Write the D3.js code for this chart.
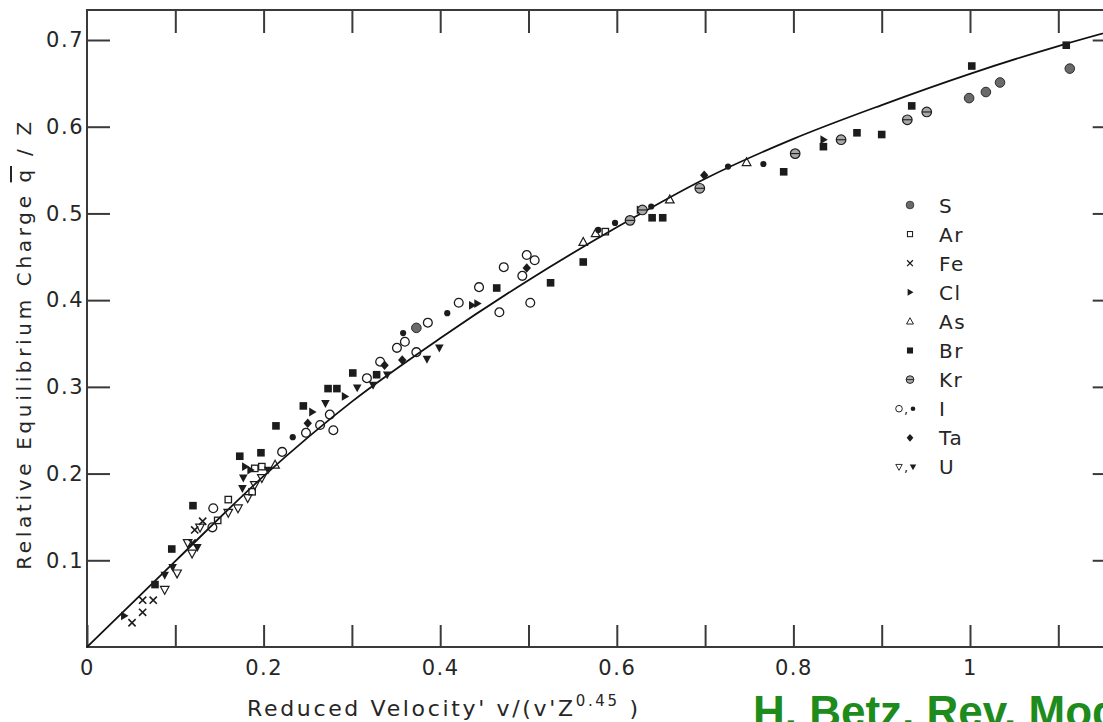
<!DOCTYPE html>
<html>
<head>
<meta charset="utf-8">
<script src="https://cdn.jsdelivr.net/npm/d3@7"></script>
<style>
  body { margin: 0; background: #fff; }
  svg { display: block; }
</style>
</head>
<body>
<svg id="chart" width="1103" height="722"></svg>
<script>
// ---- Universal equilibrium-charge curve (reduced velocity -> q/Z) ----
const curveV = [0, 0.10, 0.20, 0.30, 0.40, 0.50, 0.60, 0.70, 0.80, 0.90, 1.00, 1.10, 1.17];
const curveQ = [0, 0.099, 0.197, 0.283, 0.356, 0.423, 0.484, 0.540, 0.586, 0.625, 0.661, 0.693, 0.713];

// ---- Measured points [reduced velocity, q/Z] per projectile ----
const sulfur = [[0.373, 0.368], [0.999, 0.633], [1.018, 0.640], [1.034, 0.651], [1.113, 0.667]];
const argon = [[0.160, 0.170], [0.190, 0.206], [0.198, 0.208], [0.187, 0.179], [0.148, 0.146], [0.587, 0.479]];
const iron = [[0.051, 0.028], [0.063, 0.054], [0.063, 0.040], [0.075, 0.054], [0.119, 0.120], [0.122, 0.135], [0.131, 0.145]];
const chlorine = [[0.042, 0.036], [0.179, 0.208], [0.185, 0.204], [0.255, 0.271], [0.292, 0.289], [0.436, 0.394], [0.442, 0.396], [0.626, 0.504], [0.834, 0.585]];
const arsenic = [[0.213, 0.210], [0.562, 0.467], [0.576, 0.477], [0.660, 0.516], [0.747, 0.559]];
const bromine = [[0.077, 0.072], [0.096, 0.113], [0.120, 0.163], [0.173, 0.220], [0.197, 0.224], [0.214, 0.255], [0.245, 0.278], [0.273, 0.298], [0.283, 0.298], [0.301, 0.316], [0.328, 0.314], [0.464, 0.414], [0.525, 0.420], [0.562, 0.444], [0.640, 0.495], [0.652, 0.495], [0.789, 0.548], [0.834, 0.577], [0.872, 0.593], [0.900, 0.591], [0.934, 0.624], [1.002, 0.670], [1.109, 0.694]];
const krypton = [[0.615, 0.492], [0.629, 0.504], [0.694, 0.529], [0.802, 0.569], [0.854, 0.585], [0.929, 0.608], [0.951, 0.617]];
const iodineOpen = [[0.142, 0.138], [0.143, 0.160], [0.221, 0.225], [0.248, 0.247], [0.264, 0.256], [0.279, 0.250], [0.275, 0.268], [0.317, 0.310], [0.332, 0.329], [0.351, 0.345], [0.360, 0.352], [0.373, 0.340], [0.386, 0.374], [0.421, 0.397], [0.444, 0.415], [0.467, 0.386], [0.472, 0.438], [0.498, 0.452], [0.507, 0.446], [0.502, 0.397], [0.493, 0.428]];
const iodineFilled = [[0.233, 0.242], [0.358, 0.362], [0.408, 0.385], [0.579, 0.481], [0.598, 0.489], [0.639, 0.508], [0.726, 0.554], [0.766, 0.557]];
const tantalum = [[0.250, 0.258], [0.337, 0.325], [0.357, 0.331], [0.498, 0.437], [0.699, 0.544]];
const uraniumOpen = [[0.088, 0.066], [0.102, 0.085], [0.114, 0.120], [0.119, 0.108], [0.128, 0.138], [0.160, 0.155], [0.171, 0.160], [0.182, 0.172], [0.190, 0.187], [0.198, 0.195]];
const uraniumFilled = [[0.088, 0.083], [0.097, 0.092], [0.125, 0.115], [0.176, 0.183], [0.177, 0.195], [0.205, 0.204], [0.270, 0.281], [0.306, 0.299], [0.324, 0.302], [0.340, 0.314], [0.385, 0.332], [0.399, 0.345]];

// ---- Axis ticks and labels ----
const xTicks = [0, 0.1, 0.2, 0.3, 0.4, 0.5, 0.6, 0.7, 0.8, 0.9, 1.0, 1.1];
const xTickLabels = ["0", "", "0.2", "", "0.4", "", "0.6", "", "0.8", "", "1", ""];
const yTicks = [0.1, 0.2, 0.3, 0.4, 0.5, 0.6, 0.7];
const yTickLabels = ["0.1", "0.2", "0.3", "0.4", "0.5", "0.6", "0.7"];

// ---- Legend ----
const legendLabels = ["S", "Ar", "Fe", "Cl", "As", "Br", "Kr", "I", "Ta", "U"];
const legendMarkers = [["S"], ["Ar"], ["Fe"], ["Cl"], ["As"], ["Br"], ["Kr"], ["Io", "If"], ["Ta"], ["Uo", "Uf"]];

const series = [
  { kind: "S", pts: sulfur }, { kind: "Ar", pts: argon }, { kind: "Fe", pts: iron },
  { kind: "Cl", pts: chlorine }, { kind: "As", pts: arsenic }, { kind: "Kr", pts: krypton },
  { kind: "Io", pts: iodineOpen }, { kind: "Uo", pts: uraniumOpen },
  { kind: "Br", pts: bromine }, { kind: "If", pts: iodineFilled }, { kind: "Ta", pts: tantalum },
  { kind: "Uf", pts: uraniumFilled }
];

const ink = "#1c1c1c";
const frameInk = "#3a3a3a";
const textInk = "#262626";
const font = "'DejaVu Sans', 'Liberation Sans', sans-serif";

const svg = d3.select("#chart");
const x = d3.scaleLinear().domain([0, 1]).range([87, 970]);
const y = d3.scaleLinear().domain([0, 0.7]).range([647, 40]);
const xMax = 1.165, yMax = 0.7346;

// frame
svg.append("rect")
  .attr("x", x(0)).attr("y", y(yMax))
  .attr("width", x(xMax) - x(0)).attr("height", y(0) - y(yMax))
  .attr("fill", "none").attr("stroke", frameInk).attr("stroke-width", 2);

function styleAxis(g) {
  g.select(".domain").remove();
  g.selectAll(".tick line").attr("stroke", frameInk).attr("stroke-width", 2);
  g.selectAll(".tick text")
    .attr("fill", textInk)
    .attr("font-family", font)
    .attr("font-size", 21)
    .attr("letter-spacing", 1.5);
}

svg.append("g").attr("transform", `translate(0,${y(0)})`)
  .call(d3.axisBottom(x).tickValues(xTicks).tickSize(-22).tickPadding(13)
    .tickFormat((d, i) => xTickLabels[i]))
  .call(styleAxis);
svg.append("g").attr("transform", `translate(0,${y(yMax)})`)
  .call(d3.axisTop(x).tickValues(xTicks.slice(1)).tickSize(-23).tickFormat(""))
  .call(styleAxis);
svg.append("g").attr("transform", `translate(${x(0)},0)`)
  .call(d3.axisLeft(y).tickValues(yTicks).tickSize(-23).tickPadding(3)
    .tickFormat((d, i) => yTickLabels[i]))
  .call(styleAxis);
svg.append("g").attr("transform", `translate(${x(xMax)},0)`)
  .call(d3.axisRight(y).tickValues(yTicks).tickSize(-23).tickFormat(""))
  .call(styleAxis);

// universal curve
const curvePts = curveV.map((v, i) => [v, curveQ[i]]);
svg.append("path")
  .datum(curvePts)
  .attr("d", d3.line().x(d => x(d[0])).y(d => y(d[1])).curve(d3.curveMonotoneX))
  .attr("fill", "none").attr("stroke", "#111").attr("stroke-width", 1.8);

// marker shapes
function drawMarker(g, kind) {
  switch (kind) {
    case "S":
      g.append("circle").attr("r", 4.8).attr("fill", "#6a6a6a").attr("stroke", "#2a2a2a").attr("stroke-width", 1);
      break;
    case "Ar":
      g.append("rect").attr("x", -3.2).attr("y", -3.2).attr("width", 6.4).attr("height", 6.4)
        .attr("fill", "none").attr("stroke", ink).attr("stroke-width", 1.3);
      break;
    case "Fe":
      g.append("path").attr("d", "M-3.6,-3.6L3.6,3.6M-3.6,3.6L3.6,-3.6")
        .attr("stroke", ink).attr("stroke-width", 1.6).attr("fill", "none");
      break;
    case "Cl":
      g.append("path").attr("d", "M-3,-4.4L4.4,0L-3,4.4Z").attr("fill", ink);
      break;
    case "As":
      g.append("path").attr("d", "M0,-4.6L4.3,3.3L-4.3,3.3Z")
        .attr("fill", "none").attr("stroke", ink).attr("stroke-width", 1.2);
      break;
    case "Br":
      g.append("rect").attr("x", -3.8).attr("y", -3.8).attr("width", 7.6).attr("height", 7.6).attr("fill", ink);
      break;
    case "Kr":
      g.append("circle").attr("r", 4.8).attr("fill", "#a8a8a8").attr("stroke", ink).attr("stroke-width", 1.2);
      g.append("path").attr("d", "M-4.6,0L4.6,0").attr("stroke", ink).attr("stroke-width", 1.1);
      break;
    case "Io":
      g.append("circle").attr("r", 4.4).attr("fill", "none").attr("stroke", ink).attr("stroke-width", 1.3);
      break;
    case "If":
      g.append("circle").attr("r", 3.1).attr("fill", ink);
      break;
    case "Ta":
      g.append("path").attr("d", "M0,-4.8L4.2,0L0,4.8L-4.2,0Z").attr("fill", ink);
      break;
    case "Uo":
      g.append("path").attr("d", "M-4.3,-3.3L4.3,-3.3L0,4.6Z")
        .attr("fill", "none").attr("stroke", ink).attr("stroke-width", 1.2);
      break;
    case "Uf":
      g.append("path").attr("d", "M-4.3,-3.3L4.3,-3.3L0,4.6Z").attr("fill", ink);
      break;
  }
}

// data points
const pointLayer = svg.append("g");
series.forEach(s => {
  pointLayer.selectAll(null).data(s.pts).enter().append("g")
    .attr("transform", d => `translate(${x(d[0])},${y(d[1])})`)
    .each(function () { drawMarker(d3.select(this), s.kind); });
});

// legend
const legend = svg.append("g");
legendLabels.forEach((label, i) => {
  const cy = 205 + i * 29.1;
  const kinds = legendMarkers[i];
  if (kinds.length === 1) {
    drawMarker(legend.append("g").attr("transform", `translate(910,${cy}) scale(0.8)`), kinds[0]);
  } else {
    drawMarker(legend.append("g").attr("transform", `translate(899,${cy}) scale(0.75)`), kinds[0]);
    legend.append("text").attr("x", 904).attr("y", cy + 5).text(",")
      .attr("font-family", font).attr("font-size", 13).attr("fill", ink);
    drawMarker(legend.append("g").attr("transform", `translate(913,${cy}) scale(0.75)`), kinds[1]);
  }
  legend.append("text")
    .attr("x", 939).attr("y", cy + 7.5)
    .attr("font-family", font).attr("font-size", 20).attr("letter-spacing", 1.5)
    .attr("fill", textInk)
    .text(label);
});

// spread a label's letters to a given width
function fitWidth(sel, target) {
  const node = sel.node();
  const n = node.getNumberOfChars();
  const w = node.getComputedTextLength();
  sel.attr("letter-spacing", (target - w) / (n - 1));
}

// y-axis title
const yTitle = svg.append("text")
  .attr("transform", "translate(31,344) rotate(-90)")
  .attr("text-anchor", "middle")
  .attr("font-family", font).attr("font-size", 20).attr("fill", textInk);
yTitle.append("tspan").text("Relative Equilibrium Charge ");
yTitle.append("tspan").attr("text-decoration", "overline").text("q");
yTitle.append("tspan").text(" / Z");
fitWidth(yTitle, 448);

// x-axis title
const xTitle = svg.append("text")
  .attr("x", 247).attr("y", 716)
  .attr("font-family", font).attr("font-size", 22).attr("fill", textInk);
xTitle.append("tspan").text("Reduced Velocity' v/(v'Z");
xTitle.append("tspan").attr("dy", -10).attr("font-size", 15).text("0.45");
xTitle.append("tspan").attr("dy", 10).text(" )");
fitWidth(xTitle, 391);

// citation, running off the lower right corner
svg.append("text")
  .attr("x", 753).attr("y", 727)
  .attr("font-family", "'Liberation Sans', Arial, sans-serif")
  .attr("font-weight", "bold").attr("font-size", 44)
  .attr("fill", "#1d8c1d")
  .text("H. Betz, Rev. Mod");
</script>
</body>
</html>
